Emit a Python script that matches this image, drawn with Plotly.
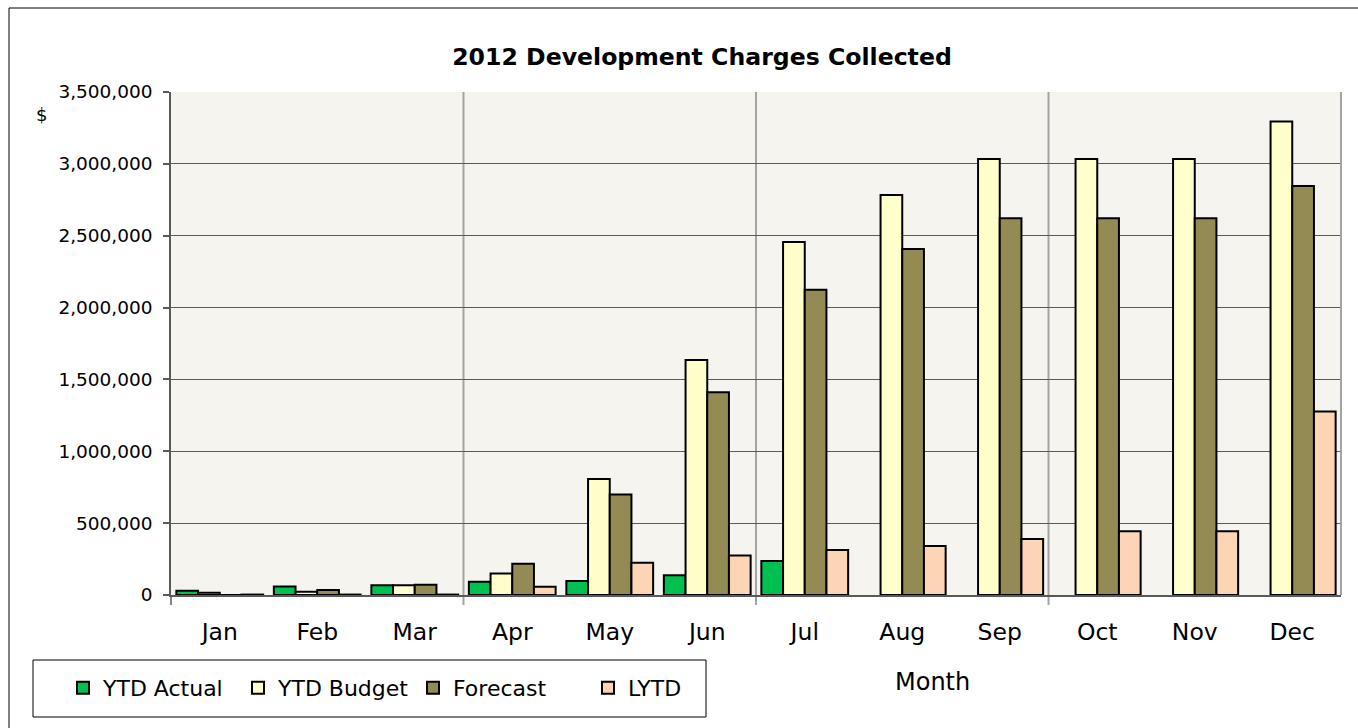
import plotly.graph_objects as go

# Données (valeurs cumulées, $)
MONTHS = ['Jan', 'Feb', 'Mar', 'Apr', 'May', 'Jun',
          'Jul', 'Aug', 'Sep', 'Oct', 'Nov', 'Dec']
YTD_ACTUAL = [30000, 60000, 68000, 93000, 97000, 137000, 237000,
              None, None, None, None, None]
YTD_BUDGET = [16000, 22000, 68000, 150000, 807000, 1635000, 2457000,
              2783000, 3034000, 3034000, 3034000, 3295000]
FORECAST = [0, 35000, 72000, 218000, 700000, 1410000, 2124000,
            2407000, 2621000, 2621000, 2621000, 2846000]
LYTD = [3000, 3000, 3000, 58000, 225000, 274000, 313000,
        341000, 390000, 443000, 443000, 1276000]

Y_TICKS = [0, 500000, 1000000, 1500000, 2000000, 2500000, 3000000, 3500000]

SERIES = [
    ('YTD Actual', YTD_ACTUAL, '#00c050'),
    ('YTD Budget', YTD_BUDGET, '#ffffcc'),
    ('Forecast', FORECAST, '#948b54'),
    ('LYTD', LYTD, '#fcd5b4'),
]

FONT = 'DejaVu Sans'
PLOT_BG = '#f5f4ef'
GRID = '#5a5a5a'

# Géométrie (pixels) -> coordonnées paper
W, H = 1358, 728
L, R, T, B = 171, 1341, 92, 595


def px(x):
    return (x - L) / (R - L)


def py(y):
    return (B - y) / (B - T)


fig = go.Figure()
for name, vals, clr in SERIES:
    fig.add_trace(go.Bar(
        x=MONTHS, y=vals, name=name,
        marker=dict(color=clr, line=dict(color='#000000', width=2)),
    ))

shapes = []
# ── Séparateurs trimestriels ──
for xq in (2.5, 5.5, 8.5):
    shapes.append(dict(type='line', xref='x', yref='paper',
                       x0=xq, x1=xq, y0=py(605), y1=1,
                       line=dict(color='#a3a3a3', width=2), layer='below'))
# bord droit de la zone de tracé
shapes.append(dict(type='line', xref='paper', yref='paper',
                   x0=1, x1=1, y0=0, y1=1,
                   line=dict(color='#a3a3a3', width=2)))
# tick sous l'axe à gauche
shapes.append(dict(type='line', xref='paper', yref='paper',
                   x0=0, x1=0, y0=py(605), y1=0,
                   line=dict(color=GRID, width=1.5)))
# cadre de la légende
shapes.append(dict(type='rect', xref='paper', yref='paper',
                   x0=px(33), x1=px(706), y0=py(717), y1=py(660),
                   line=dict(color='#000000', width=1)))
# cadre extérieur du graphique
shapes.append(dict(type='rect', xref='paper', yref='paper',
                   x0=px(9), x1=px(1380), y0=py(760), y1=py(8),
                   line=dict(color='#000000', width=1)))

annotations = [
    dict(text='$', x=px(41), y=py(114), xref='paper', yref='paper',
         showarrow=False, xanchor='center', yanchor='middle',
         font=dict(family=FONT, size=18, color='#000000')),
    dict(text='Month', x=px(932), y=py(682), xref='paper', yref='paper',
         showarrow=False, xanchor='center', yanchor='middle',
         font=dict(family=FONT, size=24, color='#000000')),
]

fig.update_layout(
    width=W, height=H,
    paper_bgcolor='#ffffff', plot_bgcolor=PLOT_BG,
    font=dict(family=FONT, color='#000000'),
    title=dict(text='<b>2012 Development Charges Collected</b>',
               x=px(702), xref='paper', xanchor='center',
               y=1 - 57 / H, yanchor='middle',
               font=dict(family=FONT, size=23.6, color='#000000')),
    barmode='group', bargap=0.11, bargroupgap=0,
    xaxis=dict(
        showgrid=False, zeroline=False, ticks='',
        tickfont=dict(family=FONT, size=23.5, color='#000000'),
        ticklabelstandoff=15,
        showline=True, linecolor=GRID, linewidth=1.5,
    ),
    yaxis=dict(
        range=[0, 3500000], tickvals=Y_TICKS, tickformat=',d',
        showgrid=True, gridcolor=GRID, gridwidth=1,
        zeroline=False, showline=True, linecolor=GRID, linewidth=1.5,
        ticks='outside', ticklen=6, tickcolor=GRID, tickwidth=1.5,
        ticklabelstandoff=7,
        tickfont=dict(family=FONT, size=18.5, color='#000000'),
    ),
    legend=dict(
        orientation='h', x=px(63), y=py(688), xref='paper', yref='paper',
        xanchor='left', yanchor='middle',
        font=dict(family=FONT, size=22, color='#000000'),
        bgcolor='rgba(0,0,0,0)', borderwidth=0,
        entrywidth=130, entrywidthmode='pixels',
        itemclick=False, itemdoubleclick=False,
    ),
    shapes=shapes,
    annotations=annotations,
    margin=dict(l=L, r=W - R, t=T, b=H - B, autoexpand=False),
    showlegend=True,
)

fig.write_html('out.html', config={'displayModeBar': False},
               post_script="document.body.style.margin='0';")
